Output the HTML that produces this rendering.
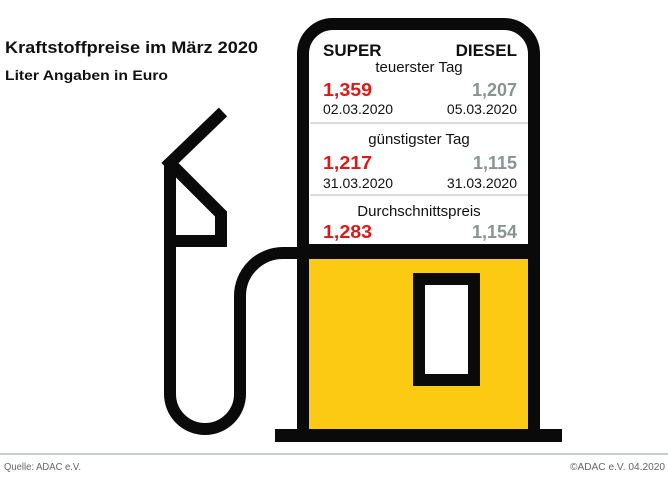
<!DOCTYPE html>
<html><head><meta charset="utf-8"><style>
html,body{margin:0;padding:0;background:#fff;}
svg{display:block;}
text{font-family:"Liberation Sans",sans-serif;}
</style></head><body>
<svg width="668" height="482" viewBox="0 0 668 482" xmlns="http://www.w3.org/2000/svg">
<rect width="668" height="482" fill="#fff"/>
<text x="5" y="53" font-size="17" font-weight="bold" fill="#111" textLength="253" lengthAdjust="spacingAndGlyphs">Kraftstoffpreise im März 2020</text>
<text x="5" y="80" font-size="14" font-weight="bold" fill="#111" textLength="163" lengthAdjust="spacingAndGlyphs">Liter Angaben in Euro</text>

<!-- pump body -->
<rect x="309" y="253" width="220" height="176" fill="#fcc913"/>
<path d="M303,429 L303,54 A30,30 0 0 1 333,24 L504,24 A30,30 0 0 1 534,54 L534,429" fill="none" stroke="#0a0a0a" stroke-width="12"/>
<rect x="303" y="244" width="231" height="15" fill="#0a0a0a"/>
<rect x="275" y="429" width="287" height="13" fill="#0a0a0a"/>
<rect x="419" y="279" width="55" height="101" fill="#fff" stroke="#0a0a0a" stroke-width="12"/>
<line x1="310" y1="123" x2="528" y2="123" stroke="#cfcfcf" stroke-width="1.5"/>
<line x1="310" y1="195" x2="528" y2="195" stroke="#cfcfcf" stroke-width="1.5"/>

<!-- hose -->
<path d="M303,253 L283,253 A43,43 0 0 0 240,296 L240,394 A35,35 0 0 1 170,394 L170,160" fill="none" stroke="#0a0a0a" stroke-width="12"/>
<!-- nozzle -->
<path d="M223,112 L170,163 L221,214 L221,241 L170,241" fill="none" stroke="#0a0a0a" stroke-width="12"/>

<!-- table -->
<text x="323" y="56" font-size="17" font-weight="bold" fill="#111">SUPER</text>
<text x="517" y="56" font-size="17" font-weight="bold" fill="#111" text-anchor="end">DIESEL</text>
<text x="419" y="72" font-size="15" fill="#111" text-anchor="middle">teuerster Tag</text>
<text x="323" y="96" font-size="18" font-weight="bold" fill="#d81a1a" textLength="49" lengthAdjust="spacingAndGlyphs">1,359</text>
<text x="517" y="96" font-size="18" font-weight="bold" fill="#8a9390" text-anchor="end">1,207</text>
<text x="323" y="114" font-size="14" fill="#111">02.03.2020</text>
<text x="517" y="114" font-size="14" fill="#111" text-anchor="end">05.03.2020</text>
<text x="419" y="144" font-size="15" fill="#111" text-anchor="middle">günstigster Tag</text>
<text x="323" y="169" font-size="18" font-weight="bold" fill="#d81a1a" textLength="49" lengthAdjust="spacingAndGlyphs">1,217</text>
<text x="517" y="169" font-size="18" font-weight="bold" fill="#8a9390" text-anchor="end">1,115</text>
<text x="323" y="188" font-size="14" fill="#111">31.03.2020</text>
<text x="517" y="188" font-size="14" fill="#111" text-anchor="end">31.03.2020</text>
<text x="419" y="216" font-size="15" fill="#111" text-anchor="middle">Durchschnittspreis</text>
<text x="323" y="238" font-size="18" font-weight="bold" fill="#d81a1a" textLength="49" lengthAdjust="spacingAndGlyphs">1,283</text>
<text x="517" y="238" font-size="18" font-weight="bold" fill="#8a9390" text-anchor="end">1,154</text>

<!-- footer -->
<rect x="0" y="453" width="668" height="2" fill="#c5d0cd"/>
<text x="4" y="470" font-size="10" fill="#666" textLength="77" lengthAdjust="spacingAndGlyphs">Quelle: ADAC e.V.</text>
<text x="570" y="470" font-size="10" fill="#666" textLength="95" lengthAdjust="spacingAndGlyphs">©ADAC e.V.  04.2020</text>
</svg>
</body></html>
